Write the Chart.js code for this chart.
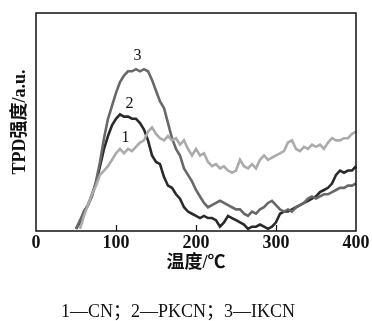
<!DOCTYPE html>
<html><head><meta charset="utf-8">
<script src="https://cdn.jsdelivr.net/npm/chart.js@4/dist/chart.umd.min.js"></script>
<style>html,body{margin:0;padding:0;background:#fff}#wrap{width:372px;height:321px}</style>
</head><body><div id="wrap"><canvas id="c" width="372" height="321"></canvas></div>
<script>
// temperature (°C), 50..400 step 5
const temps = [];
for (let t = 50; t <= 400; t += 5) temps.push(t);

// 1 — CN
const cn = [null, 0, 6, 11, 16, 20, 25, 27, 29, 32,
  35, 37, 35, 37, 36, 38, 40, 41, 45, 47,
  44, 42, 41, 43, 41, 42, 39, 41, 37, 34,
  37, 34, 35, 31, 29, 30, 28, 29, 27, 26,
  27, 32, 29, 28, 30, 28, 32, 34, 32, 33,
  34, 35, 36, 40, 41, 37, 36, 38, 37, 39,
  38, 39, 37, 40, 42, 41, 41, 42, 42, 44, 45];
// 2 — PKCN
const pkcn = [0, 3, 8, 11, 16, 21, 29, 37, 43, 48,
  51, 53, 52, 52, 51, 51, 49, 46, 41, 34,
  31, 30, 24, 20, 19, 16, 14, 10, 8, 7,
  6, 5, 6, 5, 5, 4, 1, 3, 6, 5,
  4, 3, 2, 0, 1, 1, 2, 1, 0, 1,
  3, 7, 8, 8, 9, 10, 11, 12, 13, 14,
  15, 17, 18, 19, 21, 25, 27, 26, 27, 27, 29];
// 3 — IKCN
const ikcn = [0, 4, 8, 11, 15, 22, 31, 42, 51, 57,
  63, 68, 71, 73, 73, 74, 73, 74, 73, 69,
  64, 59, 56, 49, 42, 37, 34, 28, 25, 22,
  18, 15, 12, 10, 11, 12, 13, 12, 11, 10,
  9, 9, 7, 6, 8, 7, 9, 10, 12, 13,
  11, 9, 8, 9, 8, 10, 11, 12, 14, 15,
  14, 15, 16, 16, 17, 18, 19, 19, 20, 20, 21];

const xTicks = [0, 100, 200, 300, 400];
const curveNames = ['1', '2', '3'];
const curveLabelT = [112, 117, 127];
const curveLabelY = [42, 58, 80];
const xTitle = '温度/℃';
const yTitle = 'TPD强度/a.u.';
const caption = '1—CN；2—PKCN；3—IKCN';

const serif = '"Liberation Serif", "Noto Sans CJK SC", serif';
const cjk = '"Liberation Serif", "Noto Sans CJK SC", sans-serif';

function pts(arr) { return temps.map((t, i) => ({x: t, y: arr[i]})); }

const framePlugin = {
  id: 'frame',
  afterDatasetsDraw(chart) {
    const {ctx, chartArea: a, scales} = chart;
    ctx.save();
    ctx.strokeStyle = '#111';
    ctx.lineWidth = 1.5;
    ctx.strokeRect(a.left, a.top, a.right - a.left, a.bottom - a.top);
    ctx.lineWidth = 1.2;
    xTicks.slice(1, -1).forEach(v => {
      const px = Math.round(scales.x.getPixelForValue(v)) + 0.5;
      ctx.beginPath(); ctx.moveTo(px, a.bottom); ctx.lineTo(px, a.bottom - 6); ctx.stroke();
    });
    ctx.fillStyle = '#111';
    ctx.font = '16px ' + serif;
    ctx.textAlign = 'center'; ctx.textBaseline = 'middle';
    curveNames.forEach((n, i) => {
      ctx.fillText(n, scales.x.getPixelForValue(curveLabelT[i]), scales.y.getPixelForValue(curveLabelY[i]));
    });
    ctx.restore();
  }
};

new Chart(document.getElementById('c'), {
  type: 'line',
  data: {
    datasets: [
      {label: 'CN', data: pts(cn), borderColor: '#ababab', borderWidth: 2.6},
      {label: 'IKCN', data: pts(ikcn), borderColor: '#686868', borderWidth: 2.6},
      {label: 'PKCN', data: pts(pkcn), borderColor: '#2a2a2a', borderWidth: 2.6}
    ]
  },
  options: {
    responsive: false,
    animation: false,
    devicePixelRatio: 1,
    layout: {padding: {left: 0, right: 16, top: 13, bottom: 0}},
    elements: {point: {radius: 0}, line: {tension: 0}},
    clip: false,
    plugins: {
      legend: {display: false},
      tooltip: {enabled: false},
      title: {
        display: true, position: 'bottom', text: caption, color: '#111',
        font: {family: cjk, size: 18, weight: 'normal', lineHeight: 1},
        padding: {top: 27, bottom: 0}
      }
    },
    scales: {
      x: {
        type: 'linear', min: 0, max: 400,
        afterBuildTicks(s) { s.ticks = xTicks.map(v => ({value: v})); },
        afterFit(s) { s.height = 45; },
        grid: {display: false, drawTicks: false},
        border: {display: false},
        ticks: {color: '#111', padding: 2, maxRotation: 0, font: {family: serif, size: 18, weight: 'bold'}},
        title: {display: true, text: xTitle, color: '#111', padding: {top: 0, bottom: 2},
          font: {family: cjk, size: 18, weight: 'bold', lineHeight: 1.2}}
      },
      y: {
        min: -1, max: 100,
        afterFit(s) { s.width = 36; },
        grid: {display: false, drawTicks: false},
        border: {display: false},
        ticks: {display: false},
        title: {display: true, text: yTitle, color: '#111', padding: {top: 10, bottom: 0},
          font: {family: cjk, size: 18, weight: 'bold', lineHeight: 1.2}}
      }
    }
  },
  plugins: [framePlugin]
});
</script>
</body></html>
